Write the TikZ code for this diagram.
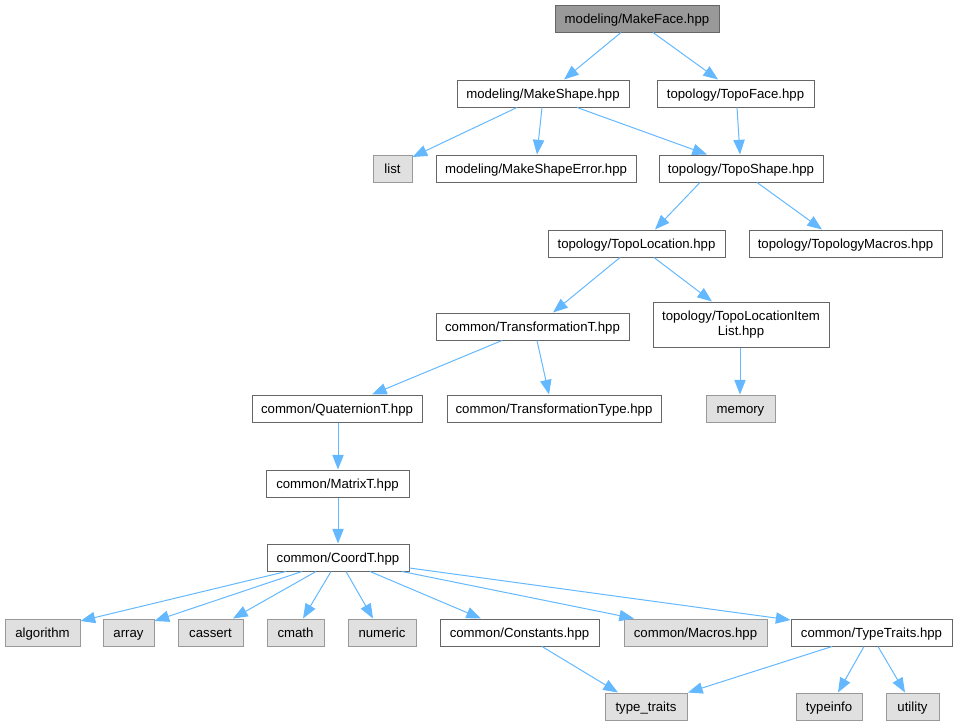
\documentclass[tikz,border=0pt]{standalone}
\usepackage{fontspec}
\setmainfont{Liberation Sans}
\usetikzlibrary{arrows.meta}
\definecolor{edgec}{HTML}{63B8FF}
\definecolor{bordw}{HTML}{666666}
\definecolor{bordg}{HTML}{999999}
\definecolor{fillg}{HTML}{E0E0E0}
\definecolor{fillroot}{HTML}{999999}
\newcommand\bx[7]{\node[#7, minimum width={(#4-#2)*0.75pt}, minimum height={(#5-#3)*0.75pt}] (#1) at ({(#2+#4)/2},{(#3+#5)/2}) {#6};}
\tikzset{
  base/.style={draw, line width=0.75pt, inner sep=0pt, font=\fontsize{9.9}{11.5}\selectfont, align=center, text height=7.1pt, text depth=0pt},
  wbox/.style={base, draw=bordw, fill=white},
  gbox/.style={base, draw=bordg, fill=fillg},
  rbox/.style={base, draw=bordw, fill=fillroot},
  twoline/.style={text height={}, text depth={}},
  dep/.style={draw=edgec, line width=0.75pt, -{Triangle[length=11pt,width=8.5pt,fill=edgec]}},
}
\begin{document}
\begin{tikzpicture}[x=0.75pt,y=-0.75pt]
\useasboundingbox (0,0) rectangle (957,725);
\bx{MakeFace}{555}{5}{719}{32}{modeling/MakeFace.hpp}{rbox}
\bx{MakeShape}{457}{80}{629}{107}{modeling/MakeShape.hpp}{wbox}
\bx{TopoFace}{657}{80}{814}{107}{topology/TopoFace.hpp}{wbox}
\bx{list}{373}{155}{412}{182}{list}{gbox}
\bx{MSE}{436}{155}{636}{182}{modeling/MakeShapeError.hpp}{wbox}
\bx{TopoShape}{659}{155}{823}{182}{topology/TopoShape.hpp}{wbox}
\bx{TopoLoc}{548}{230}{725}{257}{topology/TopoLocation.hpp}{wbox}
\bx{TopoMac}{749}{230}{942}{257}{topology/TopologyMacros.hpp}{wbox}
\bx{TransT}{436}{313}{629}{340}{common/TransformationT.hpp}{wbox}
\bx{TLIL}{653}{302}{829}{347}{topology/TopoLocationItem\\List.hpp}{wbox, twoline}
\bx{Quat}{252}{395}{422}{422}{common/QuaternionT.hpp}{wbox}
\bx{TransType}{447}{395}{661}{422}{common/TransformationType.hpp}{wbox}
\bx{memory}{706}{395}{775}{422}{memory}{gbox}
\bx{MatrixT}{266}{470}{409}{497}{common/MatrixT.hpp}{wbox}
\bx{CoordT}{267}{544}{409}{571}{common/CoordT.hpp}{wbox}
\bx{algorithm}{5}{619}{80}{646}{algorithm}{gbox}
\bx{array}{103}{619}{154}{646}{array}{gbox}
\bx{cassert}{178}{619}{243}{646}{cassert}{gbox}
\bx{cmath}{267}{619}{324}{646}{cmath}{gbox}
\bx{numeric}{348}{619}{416}{646}{numeric}{gbox}
\bx{Constants}{440}{619}{599}{646}{common/Constants.hpp}{wbox}
\bx{Macros}{624}{619}{767}{646}{common/Macros.hpp}{gbox}
\bx{TypeTraits}{791}{619}{952}{646}{common/TypeTraits.hpp}{wbox}
\bx{typetraits}{605}{693}{687}{720}{type\_traits}{gbox}
\bx{typeinfo}{796}{693}{862}{720}{typeinfo}{gbox}
\bx{utility}{886}{693}{939}{720}{utility}{gbox}

\path[dep] (MakeFace.south -| 621,0) -- (MakeShape.north -| 564,0);
\path[dep] (MakeFace.south -| 653,0) -- (TopoFace.north -| 718,0);
\path[dep] (MakeShape.south -| 517,0) -- (list.east |- 0,157);
\path[dep] (MakeShape.south -| 542,0) -- (MSE.north -| 537,0);
\path[dep] (MakeShape.south -| 577,0) -- (TopoShape.north -| 707,0);
\path[dep] (TopoFace.south -| 737,0) -- (TopoShape.north -| 740,0);
\path[dep] (TopoShape.south -| 700,0) -- (TopoLoc.north -| 655,0);
\path[dep] (TopoShape.south -| 757,0) -- (TopoMac.north -| 822,0);
\path[dep] (TopoLoc.south -| 620,0) -- (TransT.north -| 553,0);
\path[dep] (TopoLoc.south -| 654,0) -- (TLIL.north -| 712,0);
\path[dep] (TLIL.south -| 740,0) -- (memory.north -| 740,0);
\path[dep] (TransT.south -| 502,0) -- (Quat.north -| 372,0);
\path[dep] (TransT.south -| 537,0) -- (TransType.north -| 549,0);
\path[dep] (Quat.south -| 338,0) -- (MatrixT.north -| 338,0);
\path[dep] (MatrixT.south -| 338,0) -- (CoordT.north -| 338,0);
\path[dep] (CoordT.south -| 286,0) -- (algorithm.east |- 0,621);
\path[dep] (CoordT.south -| 302,0) -- (array.east |- 0,621);
\path[dep] (CoordT.south -| 316,0) -- (cassert.north -| 233,0);
\path[dep] (CoordT.south -| 331,0) -- (cmath.north -| 303,0);
\path[dep] (CoordT.south -| 346,0) -- (numeric.north -| 373,0);
\path[dep] (CoordT.south -| 370,0) -- (Constants.north -| 481,0);
\path[dep] (CoordT.south -| 402,0) -- (Macros.north -| 634,0);
\path[dep] (CoordT.east |- 0,568) -- (TypeTraits.west |- 0,620);
\path[dep] (Constants.south -| 542,0) -- (typetraits.north -| 618,0);
\path[dep] (TypeTraits.south -| 832,0) -- (typetraits.north -| 688,0);
\path[dep] (TypeTraits.south -| 864,0) -- (typeinfo.north -| 838,0);
\path[dep] (TypeTraits.south -| 878,0) -- (utility.north -| 905,0);
\end{tikzpicture}
\end{document}
